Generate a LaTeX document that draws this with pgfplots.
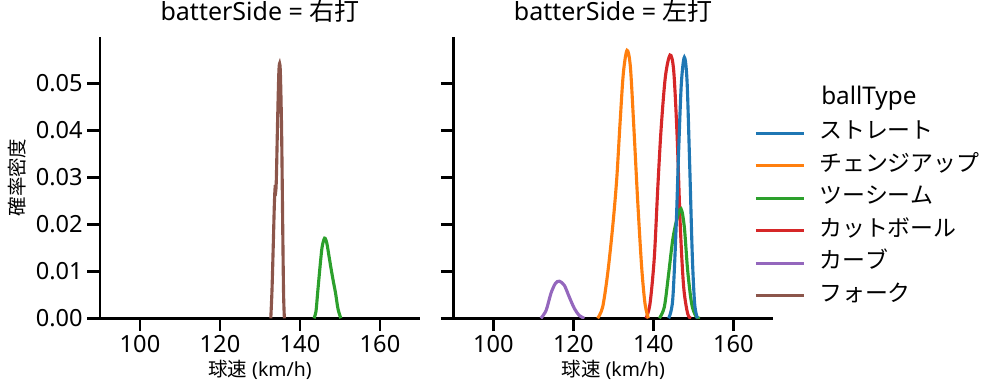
\documentclass[border=0pt]{standalone}
\usepackage{pgfplots}
\pgfplotsset{compat=1.18}
\usepackage{fontspec}
\setmainfont{Noto Sans}
\newfontfamily\jp{Noto Sans CJK JP}[Kerning=Off]
\definecolor{c0}{HTML}{1F77B4}
\definecolor{c1}{HTML}{FF7F0E}
\definecolor{c2}{HTML}{2CA02C}
\definecolor{c3}{HTML}{D62728}
\definecolor{c4}{HTML}{9467BD}
\definecolor{c5}{HTML}{8C564B}
\pgfplotsset{
  myax/.style={
    width=230.4bp, height=202.75bp, scale only axis,
    xmin=90, xmax=170, ymin=0, ymax=0.0599,
    axis x line*=bottom, axis y line*=left,
    axis line style={line width=1.875bp, black},
    xtick={100,120,140,160},
    ytick={0,0.01,0.02,0.03,0.04,0.05},
    tick align=outside, major tick length=9bp,
    every tick/.style={black, line width=1.875bp},
    tick label style={font=\fontsize{17bp}{20bp}\selectfont},
    /pgf/number format/assume math mode=true,
    yticklabel style={/pgf/number format/.cd, fixed, fixed zerofill, precision=2},
    scaled y ticks=false,
    clip mode=individual,
    xlabel style={at={(axis description cs:0.5,-0.1836)}, anchor=center, font=\fontsize{14bp}{16bp}\selectfont},
    ylabel style={at={(axis description cs:-0.2594,0.5)}, anchor=center, font=\fontsize{14bp}{16bp}\selectfont},
    title style={at={(axis description cs:0.5,1.0298)}, anchor=base, font=\fontsize{18bp}{21bp}\selectfont},
    xlabel={{\jp 球速} (km/h)},
    every axis plot/.append style={line width=2.25bp, no markers, smooth},
  }
}
\begin{document}
\begin{tikzpicture}
\useasboundingbox (-72bp,-52.34bp) rectangle (647.28bp,229.18bp);
\begin{axis}[myax, at={(0,0)}, anchor=south west, title={batterSide = {\jp 右打}}, ylabel={\jp 確率密度}]
\addplot[c2] coordinates {
(143.5,0.0000) (144.0,0.0015) (144.4,0.0053) (145.0,0.0109) (145.5,0.0150)
(146.0,0.0168) (146.3,0.0170) (146.7,0.0160) (147.2,0.0135) (147.7,0.0109)
(148.3,0.0080) (148.9,0.0053) (149.5,0.0020) (150.2,0.0000)};
\addplot[c5] coordinates {
(132.7,0.0000) (133.0,0.0060) (133.3,0.0150) (133.6,0.0245) (133.8,0.0280)
(133.95,0.0272) (134.1,0.0300) (134.4,0.0420) (134.7,0.0520) (134.9,0.0542)
(135.1,0.0520) (135.4,0.0400) (135.7,0.0180) (135.9,0.0050) (136.1,0.0000)};
\end{axis}
\begin{axis}[myax, at={(254.4bp,0)}, anchor=south west, title={batterSide = {\jp 左打}}, yticklabels={},
  legend style={at={(axis description cs:0.9397,0.697)}, anchor=north west, draw=none, fill=none,
    inner sep=0pt, font=\fontsize{16.5bp}{19.8bp}\selectfont\jp,
    nodes={inner sep=0pt, text height=12bp, text depth=4bp},
    row sep=7.4bp, column sep=9.5bp},
  legend cell align=left,
  legend image code/.code={\draw[#1, line width=2.25bp] (0bp,0bp) -- (35bp,0bp);}]
\addplot[c4, forget plot] coordinates {
(111.9,0) (113.2,0.0017) (114.4,0.0053) (115.5,0.0074) (116.5,0.0079)
(117.75,0.0070) (119.0,0.0045) (120.25,0.0021) (121.5,0.0006) (122.75,0)};
\addplot[c3, forget plot] coordinates {
(138.17,0) (139.17,0.0031) (140.25,0.0130) (141.08,0.0272) (141.92,0.0400)
(143.0,0.0513) (144.17,0.0560) (145.08,0.0528) (145.92,0.0393) (146.75,0.0194)
(147.58,0.0067) (148.58,0.0010) (149.42,0)};
\addplot[c2, forget plot] coordinates {
(141.5,0) (142.75,0.0024) (143.83,0.0095) (144.83,0.0166) (145.83,0.0209)
(146.92,0.0233) (147.75,0.0194) (148.58,0.0102) (149.58,0.0031) (150.67,0.0004) (151.67,0)};
\addplot[c1, forget plot] coordinates {
(126.08,0) (127.33,0.0024) (128.58,0.0095) (129.83,0.0194) (130.83,0.0294)
(131.67,0.0414) (132.5,0.0521) (133.42,0.0570) (134.25,0.0536) (135.08,0.0414)
(136.08,0.0251) (137.08,0.0109) (137.92,0.0031) (138.75,0)};
\addplot[c0, forget plot] coordinates {
(143.83,0) (144.83,0.0038) (145.67,0.0187) (146.33,0.0357) (147.0,0.0499)
(147.75,0.0555) (148.42,0.0506) (149.08,0.0329) (149.75,0.0131) (150.33,0.0031) (151.0,0)};
\addlegendimage{c0}\addlegendentry{ストレート}
\addlegendimage{c1}\addlegendentry{チェンジアップ}
\addlegendimage{c2}\addlegendentry{ツーシーム}
\addlegendimage{c3}\addlegendentry{カットボール}
\addlegendimage{c4}\addlegendentry{カーブ}
\addlegendimage{c5}\addlegendentry{フォーク}
\node[anchor=base, font=\fontsize{17.5bp}{21bp}\selectfont] at (axis description cs:1.2985,0.761) {ballType};
\end{axis}
\end{tikzpicture}
\end{document}
